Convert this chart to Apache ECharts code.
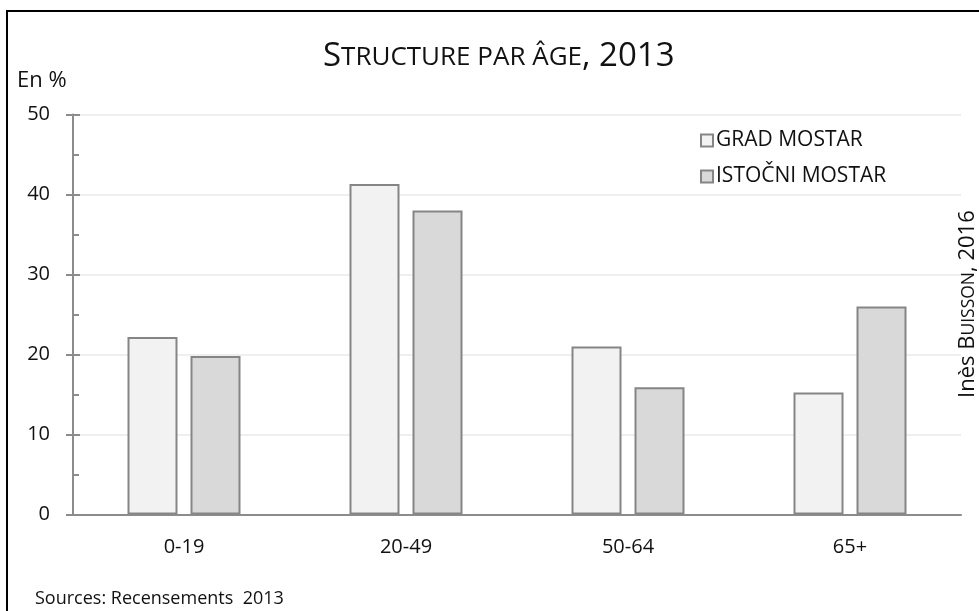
<!DOCTYPE html>
<html><head><meta charset="utf-8">
<script src="https://cdn.jsdelivr.net/npm/echarts@6/dist/echarts.min.js"></script>
<style>html,body{margin:0;padding:0;background:#fff}#c{width:979px;height:611px}</style>
</head><body><div id="c"></div>
<script>
const categories = ['0-19', '20-49', '50-64', '65+'];
const gradMostar = [22.2, 41.3, 21.0, 15.25];
const istocniMostar = [19.8, 38.0, 15.9, 26.0];
const seriesNames = ['GRAD MOSTAR', 'ISTOČNI MOSTAR'];
const yTicks = [0, 10, 20, 30, 40, 50];

const FONT = 'Open Sans';
const chart = echarts.init(document.getElementById('c'));
const axisGray = '#8c8c8c';
chart.setOption({
  backgroundColor: '#ffffff',
  animation: false,
  textStyle: { fontFamily: FONT },
  grid: { left: 73, right: 18, top: 114.5, bottom: 96.5, containLabel: false },
  legend: {
    orient: 'vertical', left: 695, top: 125, itemGap: 15,
    itemWidth: 12, itemHeight: 12, icon: 'rect',
    textStyle: { fontFamily: FONT, fontSize: 21, color: '#111', padding: [0, 0, 0, -2] },
    data: seriesNames
  },
  xAxis: {
    type: 'category', data: categories,
    axisLine: { lineStyle: { color: axisGray, width: 2 } },
    axisTick: { show: false },
    axisLabel: { fontFamily: FONT, fontSize: 20, color: '#111', margin: 23 }
  },
  yAxis: [{
    type: 'value', min: yTicks[0], max: yTicks[yTicks.length - 1], interval: 10,
    axisLine: { show: true, lineStyle: { color: axisGray, width: 2 } },
    axisTick: { show: true, length: 7, lineStyle: { color: axisGray, width: 2 } },
    axisLabel: { fontFamily: FONT, fontSize: 20, color: '#111', margin: 23 },
    splitLine: { lineStyle: { color: '#efefef', width: 2 } }
  }, {
    type: 'value', position: 'left', min: yTicks[0], max: yTicks[yTicks.length - 1], interval: 10,
    axisLine: { show: false },
    axisTick: { show: true, inside: true, length: 7, lineStyle: { color: axisGray, width: 2 } },
    minorTick: { show: true, splitNumber: 2, length: 6, lineStyle: { color: axisGray, width: 2 } },
    axisLabel: { show: false },
    splitLine: { show: false }
  }],
  series: [{
    name: seriesNames[0], type: 'bar', data: gradMostar, barWidth: 50, barGap: '26%',
    itemStyle: { color: '#f2f2f2', borderColor: '#858585', borderWidth: 2 }
  }, {
    name: seriesNames[1], type: 'bar', data: istocniMostar, barWidth: 50,
    itemStyle: { color: '#d9d9d9', borderColor: '#858585', borderWidth: 2 }
  }],
  graphic: [
    { type: 'polyline', shape: { points: [[7, 611], [7, 11], [979, 11]] }, style: { stroke: '#000', lineWidth: 2, fill: null } },
    { type: 'text', left: 323, top: 40, style: {
        text: '{b|S}{s|TRUCTURE PAR ÂGE}{b|, 2013}',
        rich: { b: { fontFamily: FONT, fontSize: 33, fill: '#111', verticalAlign: 'bottom' },
                s: { fontFamily: FONT, fontSize: 26, fill: '#111', verticalAlign: 'bottom', padding: [0, 0, 2, 0] } } } },
    { type: 'text', left: 17, top: 70, style: { text: 'En %', fontFamily: FONT, fontSize: 22, fill: '#111' } },
    { type: 'text', left: 35, top: 590, style: { text: 'Sources: Recensements  2013', fontFamily: FONT, fontSize: 18, fill: '#111' } },
    { type: 'text', x: 957, y: 398, rotation: Math.PI / 2, style: {
        text: '{r|Inès B}{s|UISSON}{r|, 2016}',
        rich: { r: { fontFamily: FONT, fontSize: 22, fill: '#111', verticalAlign: 'bottom' },
                s: { fontFamily: FONT, fontSize: 17.5, fill: '#111', verticalAlign: 'bottom', padding: [0, 0, 1, 0] } } } }
  ]
});
</script></body></html>
